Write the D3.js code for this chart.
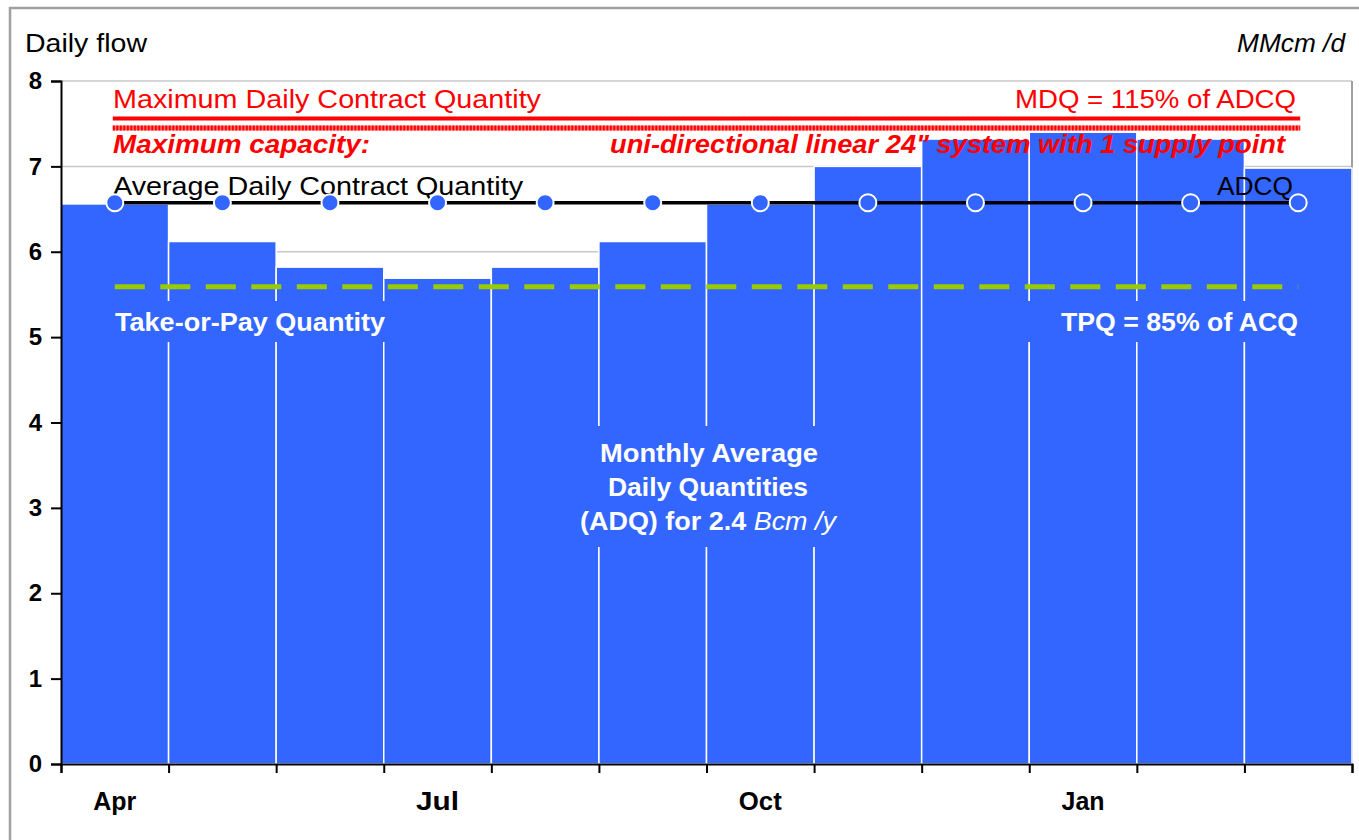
<!DOCTYPE html>
<html>
<head>
<meta charset="utf-8">
<script src="https://cdn.jsdelivr.net/npm/d3@7"></script>
<style>
  body { margin: 0; background: #fff; }
  text { font-family: "Liberation Sans", Arial, sans-serif; }
</style>
</head>
<body>
<script>
// monthly average daily quantities, MMcm/d
var months = ["Apr", "May", "Jun", "Jul", "Aug", "Sep", "Oct", "Nov", "Dec", "Jan", "Feb", "Mar"];
var adq = [6.56, 6.12, 5.82, 5.69, 5.82, 6.12, 6.56, 7.00, 7.32, 7.40, 7.32, 6.98];
var adcq = [6.575, 6.575, 6.575, 6.575, 6.575, 6.575, 6.575, 6.575, 6.575, 6.575, 6.575, 6.575];
var mdq = 7.56;       // 115% of ADCQ
var capacity = 7.45;  // max capacity of the system
var tpq = 5.59;       // 85% of ACQ
var yTicks = [0, 1, 2, 3, 4, 5, 6, 7, 8];
var xLabels = ["Apr", "Jul", "Oct", "Jan"];

var width = 1359, height = 840;
var padding = {top: 81, right: 7, bottom: 76, left: 61};

var svg = d3.select("body").append("svg")
  .attr("width", width)
  .attr("height", height);

// outer frame
svg.append("rect")
  .attr("x", 10).attr("y", 8)
  .attr("width", width + 20).attr("height", height + 20)
  .attr("fill", "none")
  .attr("stroke", "#a0a0a0")
  .attr("stroke-width", 2.5);

var x = d3.scaleBand()
  .domain(months)
  .range([padding.left, width - padding.right]);

var y = d3.scaleLinear()
  .domain([0, 8])
  .range([height - padding.bottom, padding.top]);

var xEdge = d3.scaleLinear()
  .domain([0, months.length])
  .range(x.range());

// grid
svg.append("g")
  .selectAll("line")
  .data(yTicks.filter(d => d > 0))
  .join("line")
  .attr("x1", x.range()[0]).attr("x2", x.range()[1])
  .attr("y1", d => y(d)).attr("y2", d => y(d))
  .attr("stroke", "#c8c8c8")
  .attr("stroke-width", 1.5);

svg.append("line")
  .attr("x1", x.range()[1]).attr("x2", x.range()[1])
  .attr("y1", y(8)).attr("y2", y(0))
  .attr("stroke", "#a0a0a0")
  .attr("stroke-width", 2);

// bars
svg.append("g")
  .selectAll("rect")
  .data(adq)
  .join("rect")
  .attr("x", (d, i) => x(months[i]))
  .attr("y", d => y(d))
  .attr("width", x.bandwidth())
  .attr("height", d => y(0) - y(d))
  .attr("fill", "#3366ff")
  .attr("stroke", "#ffffff")
  .attr("stroke-width", 1.5);

// MDQ and capacity lines
var x0 = x(months[0]) + x.bandwidth() / 2 - 2;
var x1 = x(months[11]) + x.bandwidth() / 2 + 2;
svg.append("line")
  .attr("x1", x0).attr("x2", x1)
  .attr("y1", y(mdq)).attr("y2", y(mdq))
  .attr("stroke", "#ff0000")
  .attr("stroke-width", 4);
svg.append("line")
  .attr("x1", x0).attr("x2", x1)
  .attr("y1", y(capacity)).attr("y2", y(capacity))
  .attr("stroke", "#ff7070")
  .attr("stroke-width", 5);
svg.append("line")
  .attr("x1", x0).attr("x2", x1)
  .attr("y1", y(capacity)).attr("y2", y(capacity))
  .attr("stroke", "#ff0000")
  .attr("stroke-width", 5)
  .attr("stroke-dasharray", "2,1.5");

// TPQ dashed
svg.append("line")
  .attr("x1", x0 + 2).attr("x2", x1 - 2)
  .attr("y1", y(tpq)).attr("y2", y(tpq))
  .attr("stroke", "#99cc00")
  .attr("stroke-width", 5)
  .attr("stroke-dasharray", "30,15.5");

function label(txt, xx, yy, anchor, w, opts) {
  var t = svg.append("text")
    .attr("x", xx).attr("y", yy)
    .attr("text-anchor", anchor)
    .attr("font-size", opts.size)
    .attr("font-weight", opts.weight || "normal")
    .attr("font-style", opts.style || "normal")
    .attr("fill", opts.fill)
    .text(txt);
  if (w) t.attr("textLength", w).attr("lengthAdjust", "spacingAndGlyphs");
  return t;
}

// blue backing behind white labels (cuts the bar separators)
function backing(xx, yy, w, h) {
  svg.append("rect")
    .attr("x", xx).attr("y", yy)
    .attr("width", w).attr("height", h)
    .attr("fill", "#3366ff");
}

backing(108, 301, 284, 41);
backing(1020, 301, 282, 41);
backing(575, 426, 268, 121);

var white = {size: 26, weight: "bold", fill: "#fff"};
label("Take-or-Pay Quantity", 115, 331, "start", 270, white);
label("TPQ = 85% of ACQ", 1298, 331, "end", 237, white);

label("Monthly Average", 709, 462, "middle", 218, white);
label("Daily Quantities", 708, 496, "middle", 200, white);
var l3 = svg.append("text")
  .attr("x", 580).attr("y", 530)
  .attr("font-size", 26)
  .attr("font-weight", "bold")
  .attr("fill", "#fff")
  .text("(ADQ) for 2.4 ");
l3.append("tspan").attr("font-weight", "normal").attr("font-style", "italic").text("Bcm /y");
l3.attr("textLength", 256).attr("lengthAdjust", "spacingAndGlyphs");

// ADCQ line and markers
var line = d3.line()
  .x((d, i) => x(months[i]) + x.bandwidth() / 2)
  .y(d => y(d));
svg.append("path")
  .datum(adcq)
  .attr("d", line)
  .attr("fill", "none")
  .attr("stroke", "#000")
  .attr("stroke-width", 3.5);

var red = {size: 26, fill: "#ff0000"};
var redBI = {size: 26, weight: "bold", style: "italic", fill: "#ff0000"};
label("Maximum Daily Contract Quantity", 113, 108, "start", 428, red);
label("MDQ = 115% of ADCQ", 1296, 108, "end", 281, red);
label("Maximum capacity:", 113, 153, "start", 257, redBI);
label("uni-directional linear 24\" system with 1 supply point", 1285, 153, "end", 675, redBI);
label("Average Daily Contract Quantity", 113, 195, "start", 410, {size: 26, fill: "#000"});
label("ADCQ", 1293, 195, "end", 76, {size: 26, fill: "#000"});

svg.append("g")
  .selectAll("circle")
  .data(adcq)
  .join("circle")
  .attr("cx", (d, i) => x(months[i]) + x.bandwidth() / 2)
  .attr("cy", d => y(d))
  .attr("r", 8.5)
  .attr("fill", "#3366ff")
  .attr("stroke", "#ffffff")
  .attr("stroke-width", 2);

// axes
var yAxis = d3.axisLeft(y)
  .tickValues(yTicks)
  .tickSize(10)
  .tickPadding(9)
  .tickFormat(d3.format("d"));
var gy = svg.append("g")
  .attr("transform", "translate(" + padding.left + ",0)")
  .call(yAxis);
gy.select(".domain").attr("stroke-width", 2);
gy.selectAll(".tick line").attr("stroke-width", 2);
gy.selectAll("text")
  .attr("font-size", 24)
  .attr("font-weight", "bold")
  .attr("font-family", "Liberation Sans, Arial, sans-serif")
  .attr("fill", "#000");

var xAxis = d3.axisBottom(xEdge)
  .tickValues(d3.range(0, months.length + 1))
  .tickSize(9)
  .tickFormat("");
var gx = svg.append("g")
  .attr("transform", "translate(0," + y(0) + ")")
  .call(xAxis);
gx.select(".domain").attr("stroke-width", 2);
gx.selectAll(".tick line").attr("stroke-width", 2);

svg.append("g")
  .selectAll("text")
  .data(xLabels)
  .join("text")
  .attr("x", d => x(d) + x.bandwidth() / 2)
  .attr("y", 810)
  .attr("text-anchor", "middle")
  .attr("font-size", 25)
  .attr("font-weight", "bold")
  .attr("textLength", 43)
  .attr("lengthAdjust", "spacingAndGlyphs")
  .text(d => d);

label("Daily flow", 25, 52, "start", 122, {size: 25, fill: "#000"});
label("MMcm /d", 1345, 52, "end", 108, {size: 25, style: "italic", fill: "#000"});
</script>
</body>
</html>
